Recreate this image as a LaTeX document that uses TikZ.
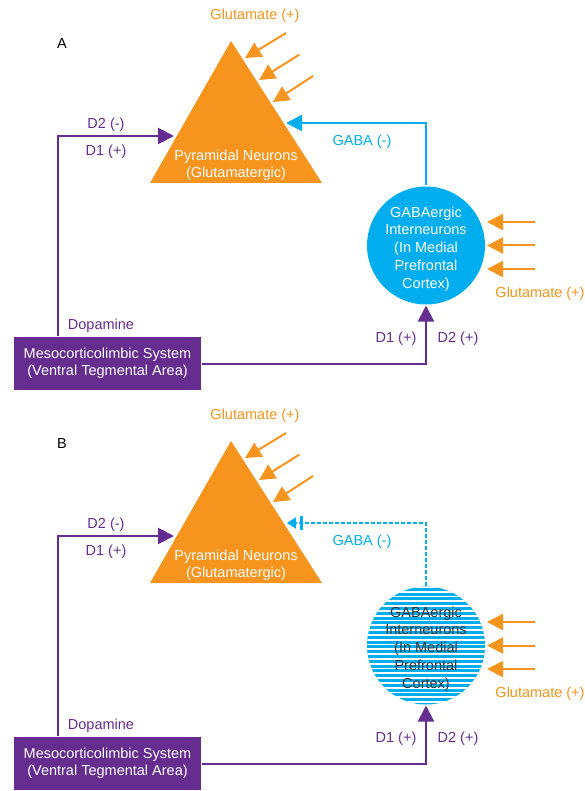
\documentclass[tikz,border=0pt]{standalone}
\usepackage{fontspec}
\setmainfont{Liberation Sans}
\usepackage{xcolor}
\definecolor{colorGlutamate}{HTML}{F7941D}
\definecolor{colorGaba}{HTML}{00AEEF}
\definecolor{colorDopamine}{HTML}{662D91}
\usetikzlibrary{arrows.meta, positioning}
\tikzset{
  gluArrow/.style={->, colorGlutamate},
  gabaArrow/.style={->, colorGaba},
  gabaBlocked/.style={colorGaba, line width=2pt, dash pattern=on 4pt off 2pt,
    -{Bar[width=14pt,line width=3pt,sep=4pt] Triangle[length=9pt,width=11pt]}},
  dopArrow/.style={->, colorDopamine},
  neuronCircle/.style={circle, fill=colorGaba, minimum size=118pt, inner sep=0pt},
  neuronText/.style={align=center, font=\fontsize{14.5}{17.8}\selectfont},
  vtaBox/.style={fill=colorDopamine, text=white, align=center, minimum width=187pt,
    minimum height=53pt, inner sep=0pt}
}

\begin{document}
\begin{tikzpicture}[x=1pt, y=-1pt, line width=2pt, >={Triangle[length=16pt,width=16pt]},
  every node/.style={font=\fontsize{14.5}{17}\selectfont}]
\useasboundingbox (0,0) rectangle (585,791);

% panel A
\node (labelA) at (62,44) {A};
\fill[colorGlutamate] (231,41) coordinate (pyrAtop) -- (322,183) coordinate (pyrAright) -- (150,183) coordinate (pyrAleft) -- cycle;
\node[white, align=center] (pyrA) at (236,165.5) {Pyramidal Neurons\\(Glutamatergic)};
\node[colorGlutamate] (gluAtop) at (255,16) {Glutamate (+)};
\foreach \i in {0,1,2} {
  \coordinate (gluA\i) at ({286+13.5*\i},{33+21.5*\i});
  \coordinate (gluAtip\i) at ({245+14*\i},{58+22*\i});
  \draw[gluArrow] (gluA\i) -- (gluAtip\i);
}
\node[neuronCircle] (gabaA) at (426,245.5) {};
\node[neuronText, white] (gabaAtext) at (426,249) {GABAergic\\Interneurons\\(In Medial\\Prefrontal\\Cortex)};
\foreach \i in {0,1,2} {
  \coordinate (gluAr\i) at (535,{222+23.5*\i});
  \coordinate (gluArtip\i) at (487,{222+23.5*\i});
  \draw[gluArrow] (gluAr\i) -- (gluArtip\i);
}
\node[colorGlutamate] (gluAright) at (540,294) {Glutamate (+)};
\coordinate (gabaAcorner) at (426,123);
\coordinate (pyrAgaba) at (286,123);
\draw[gabaArrow] (gabaA.north) -- (gabaAcorner) -- (pyrAgaba);
\node[colorGaba] (gabaAlabel) at (362,142) {GABA (-)};
\node[vtaBox] (vtaA) at (107.5,363.5) {Mesocorticolimbic System\\(Ventral Tegmental Area)};
\coordinate (dopAcorner) at (58,136);
\coordinate (pyrAdop) at (174,136);
\draw[dopArrow] (vtaA.north -| dopAcorner) -- (dopAcorner) -- (pyrAdop);
\draw[dopArrow] (vtaA.east) -- (vtaA.east -| gabaA) -- (gabaA.south);
\node[colorDopamine] (d2Aleft) at (106,125) {D2 (-)};
\node[colorDopamine] (d1Aleft) at (106,152) {D1 (+)};
\node[colorDopamine] (dopAlabel) at (101,326) {Dopamine};
\node[colorDopamine] (d1Aright) at (396,339) {D1 (+)};
\node[colorDopamine] (d2Aright) at (458,339) {D2 (+)};

% panel B
\begin{scope}[yshift=-400pt]
\node (labelB) at (62,44) {B};
\fill[colorGlutamate] (231,41) coordinate (pyrBtop) -- (322,183) coordinate (pyrBright) -- (150,183) coordinate (pyrBleft) -- cycle;
\node[white, align=center] (pyrB) at (236,165.5) {Pyramidal Neurons\\(Glutamatergic)};
\node[colorGlutamate] (gluBtop) at (255,16) {Glutamate (+)};
\foreach \i in {0,1,2} {
  \coordinate (gluB\i) at ({286+13.5*\i},{33+21.5*\i});
  \coordinate (gluBtip\i) at ({245+14*\i},{58+22*\i});
  \draw[gluArrow] (gluB\i) -- (gluBtip\i);
}
\node[neuronCircle] (gabaB) at (426,245.5) {};
\begin{scope}
  \clip (gabaB.center) circle (59pt);
  \foreach \k in {0,...,25}
    \fill[white] (360,{186+4.8*\k}) rectangle (495,{187.7+4.8*\k});
\end{scope}
\node[neuronText, black!80] (gabaBtext) at (426,249) {GABAergic\\Interneurons\\(In Medial\\Prefrontal\\Cortex)};
\foreach \i in {0,1,2} {
  \coordinate (gluBr\i) at (535,{222+23.5*\i});
  \coordinate (gluBrtip\i) at (487,{222+23.5*\i});
  \draw[gluArrow] (gluBr\i) -- (gluBrtip\i);
}
\node[colorGlutamate] (gluBright) at (540,294) {Glutamate (+)};
\coordinate (gabaBcorner) at (426,123);
\coordinate (pyrBgaba) at (287,123);
\draw[gabaBlocked] (gabaB.north) -- (gabaBcorner) -- (pyrBgaba);
\node[colorGaba] (gabaBlabel) at (362,142) {GABA (-)};
\node[vtaBox] (vtaB) at (107.5,363.5) {Mesocorticolimbic System\\(Ventral Tegmental Area)};
\coordinate (dopBcorner) at (58,136);
\coordinate (pyrBdop) at (174,136);
\draw[dopArrow] (vtaB.north -| dopBcorner) -- (dopBcorner) -- (pyrBdop);
\draw[dopArrow] (vtaB.east) -- (vtaB.east -| gabaB) -- (gabaB.south);
\node[colorDopamine] (d2Bleft) at (106,125) {D2 (-)};
\node[colorDopamine] (d1Bleft) at (106,152) {D1 (+)};
\node[colorDopamine] (dopBlabel) at (101,326) {Dopamine};
\node[colorDopamine] (d1Bright) at (396,339) {D1 (+)};
\node[colorDopamine] (d2Bright) at (458,339) {D2 (+)};
\end{scope}
\end{tikzpicture}
\end{document}
